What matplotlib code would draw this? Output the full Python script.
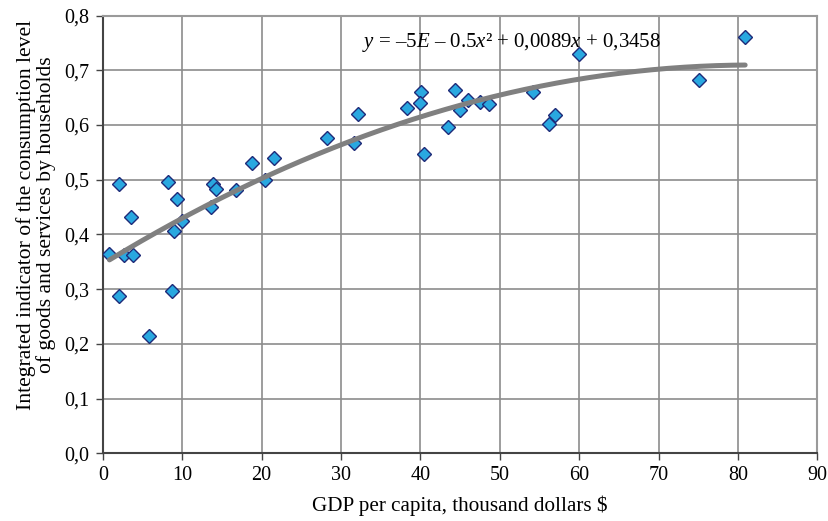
import matplotlib.pyplot as plt
import numpy as np

plt.rcParams['font.family'] = ['Liberation Serif', 'DejaVu Serif']
plt.rcParams['mathtext.fontset'] = 'custom'
plt.rcParams['mathtext.rm'] = 'Liberation Serif'
plt.rcParams['mathtext.it'] = 'Liberation Serif:italic'

# GDP per capita (thousand $) vs integrated consumption indicator
gdp = [0.84, 2.0, 2.65, 3.8, 3.5, 2.06, 5.8, 8.15, 9.3, 9.0, 10.0, 8.74,
       13.85, 14.3, 13.6, 16.8, 18.8, 20.4, 21.5,
       28.3, 31.6, 32.2, 38.3, 40.1, 39.9, 40.5, 43.5, 44.3, 45.0, 46.0,
       47.5, 48.7, 54.2, 56.2, 56.9, 60.0, 75.15, 80.9]
indicator = [0.365, 0.492, 0.363, 0.363, 0.431, 0.287, 0.214, 0.495, 0.464,
             0.406, 0.424, 0.297, 0.492, 0.483, 0.451, 0.482, 0.531, 0.500,
             0.540, 0.576, 0.567, 0.621, 0.631, 0.661, 0.640, 0.547, 0.597,
             0.664, 0.627, 0.645, 0.643, 0.639, 0.661, 0.602, 0.618, 0.729,
             0.683, 0.761]

xticks = np.arange(0, 91, 10)
yticks = np.arange(0, 0.81, 0.1)

fig, ax = plt.subplots(figsize=(8.29, 5.21), dpi=100)
fig.subplots_adjust(left=0.124, right=0.986, top=0.970, bottom=0.130)

ax.plot(gdp, indicator, linestyle='none', marker='D', markersize=7.5,
        markerfacecolor='#29a8e0', markeredgecolor='#1e2a78',
        markeredgewidth=1.0, zorder=3)

# second order polynomial trend, drawn over the points
coef = np.polyfit(gdp, indicator, 2)
xs = np.linspace(min(gdp), max(gdp), 200)
ax.plot(xs, np.polyval(coef, xs), color='#808080', lw=3.6,
        solid_capstyle='round', zorder=4)

ax.text(32.7, 0.742, r'$y$ = –5$E$ – 0.5$x$² + 0,0089$x$ + 0,3458',
        fontsize=15, ha='left', va='baseline', zorder=5)

ax.set_xlim(0, 90)
ax.set_ylim(0, 0.8)
ax.set_xticks(xticks)
ax.set_yticks(yticks)
ax.set_yticklabels([f'{v:.1f}'.replace('.', ',') for v in yticks])
ax.tick_params(labelsize=14.5, direction='out', length=5, width=1,
               color='#444444')
ax.tick_params(axis='x', pad=4)
ax.tick_params(axis='y', pad=5)
ax.grid(True, color='#8c8c8c', lw=1.2)
ax.set_axisbelow(True)

for side in ['top', 'right']:
    ax.spines[side].set_color('#9a9a9a')
    ax.spines[side].set_linewidth(1.5)
for side in ['left', 'bottom']:
    ax.spines[side].set_color('#444444')
    ax.spines[side].set_linewidth(1.5)

ax.set_xlabel('GDP per capita, thousand dollars $', fontsize=15.2, labelpad=8)
ax.set_ylabel('Integrated indicator of the consumption level\n'
              'of goods and services by households', fontsize=15.6,
              linespacing=0.95)
ax.yaxis.set_label_coords(-0.066, 0.545)

fig.savefig('out.png', dpi=100)
